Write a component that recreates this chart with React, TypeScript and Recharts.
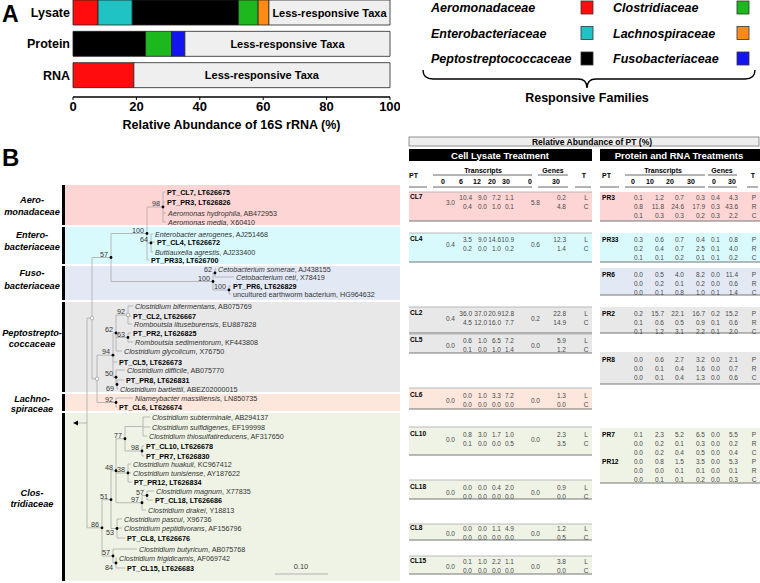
import React from 'react';
import { BarChart, Bar, XAxis, YAxis, LabelList } from 'recharts';

const FONT = '"Liberation Sans", Arial, Helvetica, sans-serif';

// panel A: relative abundance (%) per sample
const samples = ['Lysate', 'Protein', 'RNA'];
const aeromonadaceae = [7.9, 0, 19.2];
const enterobacteriaceae = [10.8, 0, 0];
const peptostreptococcaceae = [33.5, 22.9, 0];
const clostridiaceae = [6.2, 8.2, 0];
const lachnospiraceae = [3.4, 0, 0];
const fusobacteriaceae = [0, 4.2, 0];
const xTicks = [0, 20, 40, 60, 80, 100];

const families = [
  { key: 'aero', name: 'Aeromonadaceae', color: '#ff0d0d', values: aeromonadaceae },
  { key: 'entero', name: 'Enterobacteriaceae', color: '#1fc3c3', values: enterobacteriaceae },
  { key: 'pepto', name: 'Peptostreptococcaceae', color: '#000000', values: peptostreptococcaceae },
  { key: 'clostr', name: 'Clostridiaceae', color: '#1db81d', values: clostridiaceae },
  { key: 'lachno', name: 'Lachnospiraceae', color: '#ff8a14', values: lachnospiraceae },
  { key: 'fuso', name: 'Fusobacteriaceae', color: '#1414f0', values: fusobacteriaceae },
];
const legendColumns = [
  ['aero', 'entero', 'pepto'],
  ['clostr', 'lachno', 'fuso'],
];

const chartData = samples.map((sample, i) => {
  const row: Record<string, string | number> = { sample };
  let sum = 0;
  families.forEach((f) => {
    row[f.key] = f.values[i];
    sum += f.values[i];
  });
  row.less = +(100 - sum).toFixed(1);
  return row;
});

// panel B tables
const lysateIds = ['CL7', 'CL4', 'CL2', 'CL5', 'CL6', 'CL10', 'CL18', 'CL8', 'CL15'];
const lysateT0 = [3.0, 0.4, 0.4, 0.0, 0.0, 0.0, 0.0, 0.0, 0.0];
const lysateL = [
  [10.4, 9.0, 7.2, 1.1], [3.5, 9.0, 14.6, 10.9], [36.0, 37.0, 20.9, 12.8], [0.6, 1.0, 6.5, 7.2],
  [0.0, 1.0, 3.3, 7.2], [0.8, 3.0, 1.7, 1.0], [0.0, 0.0, 0.4, 2.0], [0.0, 0.0, 1.1, 4.9], [0.1, 1.0, 2.2, 1.1],
];
const lysateC = [
  [0.4, 0.0, 1.0, 0.1], [0.2, 0.0, 1.0, 0.2], [4.5, 12.0, 16.0, 7.7], [0.1, 0.0, 1.0, 1.4],
  [0.0, 0.0, 0.0, 0.0], [0.1, 0.0, 0.0, 0.5], [0.0, 0.0, 0.0, 0.0], [0.0, 0.0, 0.0, 0.0], [0.0, 0.0, 0.0, 0.0],
];
const lysateG0 = [5.8, 0.6, 0.2, 0.0, 0.0, 0.0, 0.0, 0.0, 0.0];
const lysateG30L = [0.2, 12.3, 22.8, 5.9, 1.3, 2.3, 0.9, 1.2, 3.8];
const lysateG30C = [4.8, 1.4, 14.9, 1.2, 0.0, 3.5, 0.0, 0.5, 0.0];

const prIds = ['PR3', 'PR33', 'PR6', 'PR2', 'PR8', 'PR7', 'PR12'];
const prP = [
  [0.1, 1.2, 0.7, 0.3, 0.4, 4.3], [0.3, 0.6, 0.7, 0.4, 0.1, 0.8], [0.0, 0.5, 4.0, 8.2, 0.0, 11.4],
  [0.2, 15.7, 22.1, 16.7, 0.2, 15.2], [0.0, 0.6, 2.7, 3.2, 0.0, 2.1], [0.1, 2.3, 5.2, 6.5, 0.0, 5.5],
  [0.0, 0.8, 1.5, 3.5, 0.0, 5.3],
];
const prR = [
  [0.8, 11.8, 24.6, 17.9, 0.3, 43.6], [0.2, 0.4, 0.7, 2.5, 0.1, 4.0], [0.0, 0.2, 0.1, 0.2, 0.0, 0.6],
  [0.1, 0.6, 0.5, 0.9, 0.1, 0.6], [0.0, 0.1, 0.4, 1.6, 0.0, 0.7], [0.0, 0.2, 0.1, 0.3, 0.0, 0.2],
  [0.0, 0.0, 0.1, 0.1, 0.0, 0.1],
];
const prC = [
  [0.1, 0.3, 0.3, 0.2, 0.3, 2.2], [0.1, 0.1, 0.2, 0.1, 0.1, 0.2], [0.0, 0.1, 0.8, 1.0, 0.1, 1.4],
  [0.1, 1.2, 3.1, 2.2, 0.1, 2.0], [0.0, 0.1, 0.4, 1.3, 0.0, 0.6], [0.0, 0.2, 0.4, 0.5, 0.0, 0.4],
  [0.0, 0.1, 0.1, 0.2, 0.0, 0.3],
];

const BAND = {
  pink: '#fdd5d5', cyan: '#d9fafd', lav: '#e3e8f5', grey: '#e8e8e8', peach: '#fde6dc', green: '#eef3e6',
};

// layout of the table blocks: [top, first row, bottom, band]
const lysateLayout: [number, number, number, string][] = [
  [192, 198, 221, BAND.pink], [233, 240, 262, BAND.cyan], [307, 314, 333, BAND.grey],
  [334, 341, 353, BAND.grey], [388, 396, 409, BAND.peach], [427, 435, 455, BAND.green],
  [480, 488, 499, BAND.green], [524, 529, 540, BAND.green], [556, 562, 574, BAND.green],
];
const prLayout: [number, number, number, string, boolean][] = [
  [192, 198, 221, BAND.pink, true], [233, 240, 262, BAND.cyan, true], [268, 275, 295, BAND.lav, true],
  [307, 314, 333, BAND.grey, true], [352, 360, 384, BAND.grey, true], [428, 435, 457, BAND.green, false],
  [457, 462, 483, BAND.green, true],
];

const familyBands = [
  { l1: 'Aero-', l2: 'monadaceae', top: 185, bottom: 225, color: BAND.pink, y1: 203, y2: 215 },
  { l1: 'Entero-', l2: 'bacteriaceae', top: 227, bottom: 264, color: BAND.cyan, y1: 238, y2: 250 },
  { l1: 'Fuso-', l2: 'bacteriaceae', top: 266, bottom: 300, color: BAND.lav, y1: 276, y2: 289 },
  { l1: 'Peptostrepto-', l2: 'coccaceae', top: 302, bottom: 392, color: BAND.grey, y1: 336, y2: 347 },
  { l1: 'Lachno-', l2: 'spiraceae', top: 394, bottom: 411, color: BAND.peach, y1: 402, y2: 412 },
  { l1: 'Clos-', l2: 'tridiaceae', top: 413, bottom: 581, color: BAND.green, y1: 496, y2: 507 },
];

type TNode = {
  x: number; boot?: string; open?: boolean; below?: boolean; kids?: TNode[];
  name?: string; acc?: string; y?: number; lx?: number;
};
const leaf = (lx: number, y: number, name: string, acc: string): TNode => ({ x: lx - 2, lx, y, name, acc });
const node = (x: number, boot: string | undefined, kids: TNode[], open = false, below = false): TNode => ({ x, boot, kids, open, below });

const tree = node(87, undefined, [
  node(92, undefined, [
    node(111, '57', [
      node(147, '100', [
        node(163, '98', [
          leaf(167, 192, 'PT_CL7', 'LT626675'),
          leaf(167, 202, 'PT_PR3', 'LT626826'),
          leaf(168, 213, 'Aeromonas hydrophila', 'AB472953'),
          leaf(168, 222, 'Aeromonas media', 'X60410'),
        ]),
        node(151, '64', [
          leaf(155, 234, 'Enterobacter aerogenes', 'AJ251468'),
          leaf(157, 242, 'PT_CL4', 'LT626672'),
          leaf(155, 252, 'Buttiauxella agrestis', 'AJ233400'),
        ]),
        leaf(151, 260, 'PT_PR33', 'LT626700'),
      ]),
      node(213, '100', [
        node(215, '62', [
          leaf(218, 269, 'Cetobacterium somerae', 'AJ438155'),
          leaf(236, 277, 'Cetobacterium ceti', 'X78419'),
        ]),
        node(229, '100', [
          leaf(233, 286, 'PT_PR6', 'LT626829'),
          leaf(233, 294, 'uncultured earthworm bacterium', 'HG964632'),
        ]),
      ]),
    ]),
    node(97, undefined, [
      node(113, '94', [
        node(116, '62', [
          node(128, '92', [
            leaf(135, 306, 'Clostridium bifermentans', 'AB075769'),
            leaf(133, 316, 'PT_CL2', 'LT626667'),
            leaf(134, 324, 'Romboutsia lituseburensis', 'EU887828'),
          ], true),
          node(128, '63', [
            leaf(133, 333, 'PT_PR2', 'LT626825'),
            leaf(135, 342, 'Romboutsia sedimentorum', 'KF443808'),
          ]),
          leaf(124, 351, 'Clostridium glycolicum', 'X76750'),
        ]),
        leaf(119, 362, 'PT_CL5', 'LT626673'),
        node(116, '50', [
          leaf(127, 370, 'Clostridium difficile', 'AB075770'),
          node(117, '69', [
            leaf(126, 380, 'PT_PR8', 'LT626831'),
            leaf(120, 389, 'Clostridium bartlettii', 'ABEZ02000015'),
          ], false, true),
        ]),
      ]),
      node(116, '92', [
        leaf(135, 398, 'Niameybacter massiliensis', 'LN850735'),
        leaf(119, 407, 'PT_CL6', 'LT626674'),
      ]),
    ], true),
  ], true),
  node(102, '86', [
    node(111, '51', [
      node(116, '48', [
        node(125, '77', [
          node(143, undefined, [
            leaf(152, 417, 'Clostridium subterminale', 'AB294137'),
            leaf(152, 427, 'Clostridium sulfidigenes', 'EF199998'),
            leaf(149, 436, 'Clostridium thiosulfatireducens', 'AF317650'),
          ]),
          node(142, '98', [
            leaf(146, 446, 'PT_CL10', 'LT626678'),
            leaf(146, 456, 'PT_PR7', 'LT626830'),
          ]),
        ]),
        node(128, '38', [
          leaf(133, 464, 'Clostridium huakuii', 'KC967412'),
          leaf(133, 473, 'Clostridium tunisiense', 'AY187622'),
          leaf(134, 482, 'PT_PR12', 'LT626834'),
        ]),
        node(142, '97', [
          node(147, '57', [
            leaf(156, 491, 'Clostridium magnum', 'X77835'),
            leaf(155, 500, 'PT_CL18', 'LT626686'),
          ]),
          leaf(148, 510, 'Clostridium drakei', 'Y18813'),
        ]),
      ]),
      node(117, '53', [
        leaf(124, 519, 'Clostridium pascui', 'X96736'),
        leaf(124, 528, 'Clostridium peptidivorans', 'AF156796'),
        leaf(127, 538, 'PT_CL8', 'LT626676'),
      ], false, true),
    ]),
    node(113, '57', [
      leaf(139, 549, 'Clostridium butyricum', 'AB075768'),
      node(116, '84', [
        leaf(119, 558, 'Clostridium frigidicarnis', 'AF069742'),
        leaf(127, 568, 'PT_CL15', 'LT626683'),
      ], false, true),
    ]),
  ]),
]);

const nodeY = (n: TNode): number =>
  n.kids ? (nodeY(n.kids[0]) + nodeY(n.kids[n.kids.length - 1])) / 2 : (n.y as number);

let k = 0;
const drawTree = (n: TNode): React.ReactNode[] => {
  const out: React.ReactNode[] = [];
  const y = nodeY(n);
  if (n.kids) {
    const ys = n.kids.map(nodeY);
    out.push(<line key={k++} x1={n.x} x2={n.x} y1={ys[0]} y2={ys[ys.length - 1]} stroke="#aaa" strokeWidth={0.8} />);
    n.kids.forEach((c, i) => {
      out.push(<line key={k++} x1={n.x} x2={c.x} y1={ys[i]} y2={ys[i]} stroke="#aaa" strokeWidth={0.8} />);
      out.push(...drawTree(c));
    });
    if (n.open) {
      out.push(<circle key={k++} cx={n.x} cy={y} r={1.8} fill="#fff" stroke="#999" strokeWidth={0.7} />);
    } else if (n.boot) {
      out.push(<circle key={k++} cx={n.x} cy={y} r={1.4} fill="#000" />);
    }
    if (n.boot) {
      const ty = n.below ? y + 6.5 : y - 1;
      out.push(<text key={k++} x={n.x - 3} y={ty} textAnchor="end" fontSize={7.2} fill="#333">{n.boot}</text>);
    }
  } else {
    const name = n.name as string;
    if (name.startsWith('PT_')) {
      out.push(<text key={k++} x={n.lx} y={y + 2.6} fontSize={7.2} fontWeight="bold" fill="#000">{`${name}, ${n.acc}`}</text>);
    } else {
      out.push(
        <text key={k++} x={n.lx} y={y + 2.6} fontSize={7.2} fill="#333">
          <tspan fontStyle={name.startsWith('uncultured') ? 'normal' : 'italic'}>{name}</tspan>
          <tspan>{`, ${n.acc}`}</tspan>
        </text>
      );
    }
  }
  return out;
};

const fmt = (v: number) => v.toFixed(1);
const lysCols = [472, 487, 501, 514];
const prCols = [643, 664, 684, 705, 720, 738];

function Tables() {
  const els: React.ReactNode[] = [];
  lysateIds.forEach((id, i) => {
    const [top, r1, bottom, band] = lysateLayout[i];
    const r2 = r1 + 8.5;
    const mid = (r1 + r2) / 2;
    els.push(<rect key={`lb${i}`} x={409} y={top} width={183} height={bottom - top} fill={band} />);
    els.push(<line key={`lt${i}`} x1={409} x2={592} y1={top} y2={top} stroke="#aaa" strokeWidth={0.8} />);
    els.push(<line key={`lr${i}`} x1={409} x2={592} y1={bottom} y2={bottom} stroke="#777" strokeWidth={1.2} />);
    els.push(<text key={`ln${i}`} x={410} y={r1 + 1} fontSize={6.6} fontWeight="bold" fill="#000">{id}</text>);
    els.push(<text key={`l0${i}`} x={455} y={mid + 2.3} textAnchor="end">{fmt(lysateT0[i])}</text>);
    els.push(<text key={`lg0${i}`} x={540} y={mid + 2.3} textAnchor="end">{fmt(lysateG0[i])}</text>);
    lysCols.forEach((cx, j) => {
      els.push(<text key={`lL${i}${j}`} x={cx} y={r1 + 2.3} textAnchor="end">{fmt(lysateL[i][j])}</text>);
      els.push(<text key={`lC${i}${j}`} x={cx} y={r2 + 2.3} textAnchor="end">{fmt(lysateC[i][j])}</text>);
    });
    els.push(<text key={`lgl${i}`} x={566} y={r1 + 2.3} textAnchor="end">{fmt(lysateG30L[i])}</text>);
    els.push(<text key={`lgc${i}`} x={566} y={r2 + 2.3} textAnchor="end">{fmt(lysateG30C[i])}</text>);
    els.push(<text key={`ltl${i}`} x={586} y={r1 + 2.3} textAnchor="middle">L</text>);
    els.push(<text key={`ltc${i}`} x={586} y={r2 + 2.3} textAnchor="middle">C</text>);
  });
  prIds.forEach((id, i) => {
    const [top, r1, bottom, band, rule] = prLayout[i];
    els.push(<rect key={`pb${i}`} x={600} y={top} width={160} height={bottom - top} fill={band} />);
    if (rule) els.push(<line key={`pr${i}`} x1={600} x2={760} y1={bottom} y2={bottom} stroke="#777" strokeWidth={1.2} />);
    els.push(<text key={`pn${i}`} x={602} y={r1 + 2.3} fontSize={6.6} fontWeight="bold" fill="#000">{id}</text>);
    [prP[i], prR[i], prC[i]].forEach((vals, r) => {
      const y = r1 + r * 8.7 + 2.3;
      vals.forEach((v, j) => {
        els.push(<text key={`pv${i}${r}${j}`} x={prCols[j]} y={y} textAnchor="end">{fmt(v)}</text>);
      });
      els.push(<text key={`pt${i}${r}`} x={754} y={y} textAnchor="middle">{['P', 'R', 'C'][r]}</text>);
    });
  });
  return <g fontSize={6.5} fill="#4a4a4a">{els}</g>;
}

function TableHeaders() {
  const hdr = { fontSize: 7, fontWeight: 'bold' as const, fill: '#000' };
  const lNums = [['0', 443], ['6', 461], ['12', 477], ['20', 492], ['30', 506], ['0', 530], ['30', 556]] as const;
  const rNums = [['0', 633], ['10', 650], ['20', 670], ['30', 691], ['0', 714], ['30', 732]] as const;
  const ul = (x1: number, x2: number, y: number, key: string) => (
    <line key={key} x1={x1} x2={x2} y1={y} y2={y} stroke="#555" strokeWidth={0.9} />
  );
  return (
    <g>
      <rect x={409} y={137} width={350} height={9} fill="#eeeeee" stroke="#777" strokeWidth={0.8} />
      <text x={592} y={144.5} textAnchor="middle" fontSize={8.5} fontWeight="bold" fill="#000">Relative Abundance of PT (%)</text>
      <rect x={409} y={149} width={183} height={12} fill="#000" />
      <rect x={600} y={149} width={160} height={12} fill="#000" />
      <text x={500} y={158.5} textAnchor="middle" fontSize={9.5} fontWeight="bold" fill="#fff">Cell Lysate Treatment</text>
      <text x={679} y={158.5} textAnchor="middle" fontSize={9.5} fontWeight="bold" fill="#fff">Protein and RNA Treatments</text>
      <text x={409} y={178} {...hdr}>PT</text>
      <text x={483} y={172.5} textAnchor="middle" {...hdr}>Transcripts</text>
      <text x={553} y={172.5} textAnchor="middle" {...hdr}>Genes</text>
      <text x={584} y={178} textAnchor="middle" {...hdr}>T</text>
      {lNums.map(([t, x], i) => (
        <text key={`ln${i}`} x={x} y={184} textAnchor="middle" {...hdr}>{t}</text>
      ))}
      {ul(433, 532, 175, 'a')}
      {ul(538, 568, 175, 'b')}
      {ul(409, 427, 187, 'c')}
      {ul(433, 532, 187, 'd')}
      {ul(538, 568, 187, 'e')}
      {ul(575, 591, 187, 'f')}
      <text x={602} y={178} {...hdr}>PT</text>
      <text x={663} y={172.5} textAnchor="middle" {...hdr}>Transcripts</text>
      <text x={722} y={172.5} textAnchor="middle" {...hdr}>Genes</text>
      <text x={753} y={178} textAnchor="middle" {...hdr}>T</text>
      {rNums.map(([t, x], i) => (
        <text key={`rn${i}`} x={x} y={184} textAnchor="middle" {...hdr}>{t}</text>
      ))}
      {ul(625, 705, 175, 'g')}
      {ul(708, 737, 175, 'h')}
      {ul(600, 619, 187, 'i')}
      {ul(625, 705, 187, 'j')}
      {ul(708, 737, 187, 'k')}
      {ul(747, 758, 187, 'l')}
    </g>
  );
}

function Legend() {
  const xs = [[431, 581], [613, 737]];
  const ys = [7.5, 33, 58.5];
  return (
    <g>
      {legendColumns.map((col, c) =>
        col.map((key, r) => {
          const f = families.find((ff) => ff.key === key)!;
          return (
            <g key={key}>
              <text x={xs[c][0]} y={ys[r] + 4.5} fontSize={12.5} fontWeight="bold" fontStyle="italic" fill="#000">{f.name}</text>
              <rect x={xs[c][1]} y={ys[r] - 6.5} width={12} height={13} fill={f.color} stroke="#333" strokeWidth={0.8} />
            </g>
          );
        })
      )}
      <path d="M423,70 Q423,79 433,79 L578,79 Q587,79 587,88 Q587,79 596,79 L745,79 Q755,79 755,70" fill="none" stroke="#000" strokeWidth={1.4} />
      <text x={587} y={102} textAnchor="middle" fontSize={12.5} fontWeight="bold" fill="#000">Responsive Families</text>
    </g>
  );
}

const lessLabel = (props: any) => {
  const vb = props.viewBox && props.viewBox.width !== undefined ? props.viewBox : props;
  const { x, y, width, height } = vb;
  return (
    <text x={x + width / 2} y={y + height / 2 + 4} textAnchor="middle" fontSize={11} fontWeight="bold" fill="#000" fontFamily={FONT}>
      Less-responsive Taxa
    </text>
  );
};

export default function App() {
  k = 0;
  const rootY = nodeY(tree);
  return (
    <div style={{ position: 'absolute', left: 0, top: 0, width: 760, height: 583, background: '#fff', overflow: 'hidden', fontFamily: FONT }}>
      <div style={{ position: 'absolute', left: 0, top: -3 }}>
        <BarChart
          width={400}
          height={135}
          data={chartData}
          layout="vertical"
          margin={{ top: 0, right: 10, left: 0, bottom: 0 }}
          barSize={25}
          style={{ fontFamily: FONT }}
        >
          <XAxis
            type="number"
            domain={[0, 100]}
            ticks={xTicks}
            height={35}
            tickSize={3}
            tickMargin={2}
            axisLine={{ stroke: '#000', strokeWidth: 1.3 }}
            tickLine={{ stroke: '#000' }}
            tick={{ fontSize: 13, fontWeight: 'bold', fill: '#000' }}
            label={{ value: 'Relative Abundance of 16S rRNA (%)', position: 'insideBottom', offset: 3, fontSize: 12.5, fontWeight: 'bold', fill: '#000' }}
          />
          <YAxis
            type="category"
            dataKey="sample"
            width={73}
            padding={{ top: 0, bottom: 6 }}
            axisLine={false}
            tickLine={false}
            tickSize={0}
            tickMargin={3}
            tick={{ fontSize: 12.5, fontWeight: 'bold', fill: '#000' }}
          />
          {families.map((f) => (
            <Bar key={f.key} dataKey={f.key} stackId="a" fill={f.color} stroke="#222" strokeWidth={0.8} isAnimationActive={false} />
          ))}
          <Bar dataKey="less" stackId="a" fill="#efefef" stroke="#222" strokeWidth={0.8} isAnimationActive={false}>
            <LabelList dataKey="less" content={lessLabel} />
          </Bar>
        </BarChart>
      </div>
      <svg width={760} height={583} style={{ position: 'absolute', left: 0, top: 0, pointerEvents: 'none', fontFamily: FONT }}>
        <text x={2} y={22} fontSize={23} fontWeight="bold" fill="#000">A</text>
        <Legend />
        <text x={2} y={166} fontSize={24} fontWeight="bold" fill="#000">B</text>
        {familyBands.map((b, i) => (
          <g key={`fb${i}`}>
            <rect x={65} y={b.top} width={335} height={b.bottom - b.top} fill={b.color} />
            <rect x={62} y={b.top} width={3} height={b.bottom - b.top} fill="#000" />
            <text x={32} y={b.y1} textAnchor="middle" fontSize={9.2} fontWeight="bold" fontStyle="italic" fill="#000">{b.l1}</text>
            <text x={32} y={b.y2} textAnchor="middle" fontSize={9.2} fontWeight="bold" fontStyle="italic" fill="#000">{b.l2}</text>
          </g>
        ))}
        <line x1={77} x2={tree.x} y1={rootY} y2={rootY} stroke="#aaa" strokeWidth={0.8} />
        <path d={`M73,${rootY} L78,${rootY - 2.5} L78,${rootY + 2.5} Z`} fill="#000" />
        {drawTree(tree)}
        <line x1={275} x2={328} y1={574} y2={574} stroke="#aaa" strokeWidth={0.9} />
        <text x={301} y={569} textAnchor="middle" fontSize={7.5} fill="#444">0.10</text>
        <TableHeaders />
        <Tables />
      </svg>
    </div>
  );
}
